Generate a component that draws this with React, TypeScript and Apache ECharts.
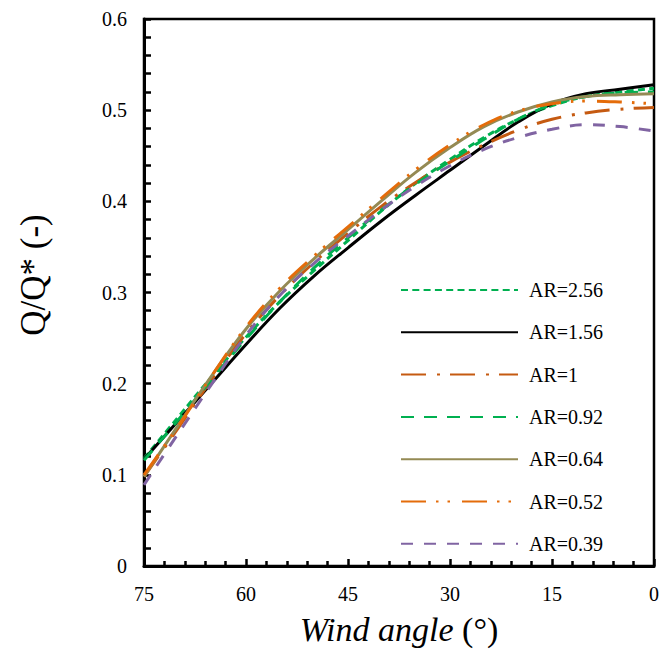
import React, { useEffect, useRef } from "react";
import * as echarts from "echarts";

const angles = [75, 70, 65, 60, 55, 50, 45, 40, 35, 30, 25, 20, 15, 10, 5, 0];
const xTicks = [75, 60, 45, 30, 15, 0];
const yTicks = [0, 0.1, 0.2, 0.3, 0.4, 0.5, 0.6];

const seriesNames = ["AR=2.56", "AR=1.56", "AR=1", "AR=0.92", "AR=0.64", "AR=0.52", "AR=0.39"];
const ar256 = [0.118, 0.163, 0.208, 0.251, 0.290, 0.324, 0.357, 0.390, 0.420, 0.446, 0.470, 0.490, 0.505, 0.515, 0.520, 0.524];
const ar156 = [0.117, 0.159, 0.201, 0.243, 0.283, 0.318, 0.349, 0.379, 0.407, 0.434, 0.461, 0.487, 0.507, 0.518, 0.523, 0.528];
const ar1 = [0.098, 0.151, 0.205, 0.255, 0.297, 0.333, 0.365, 0.395, 0.421, 0.443, 0.462, 0.478, 0.490, 0.497, 0.501, 0.503];
const ar092 = [0.116, 0.160, 0.205, 0.249, 0.290, 0.327, 0.360, 0.391, 0.419, 0.444, 0.468, 0.490, 0.506, 0.515, 0.519, 0.520];
const ar064 = [0.098, 0.154, 0.209, 0.260, 0.302, 0.337, 0.369, 0.401, 0.432, 0.459, 0.482, 0.498, 0.509, 0.515, 0.517, 0.518];
const ar052 = [0.100, 0.153, 0.209, 0.262, 0.305, 0.340, 0.372, 0.404, 0.435, 0.462, 0.484, 0.499, 0.507, 0.510, 0.509, 0.507];
const ar039 = [0.089, 0.145, 0.200, 0.253, 0.297, 0.332, 0.362, 0.391, 0.417, 0.439, 0.457, 0.470, 0.479, 0.484, 0.482, 0.477];

const seriesValues = [ar256, ar156, ar1, ar092, ar064, ar052, ar039];
const seriesColors = ["#00B050", "#000000", "#C55A11", "#00B050", "#948A54", "#E46C0A", "#8064A2"];
const seriesDash: any[] = [
  [7, 4.3],
  "solid",
  [25, 11, 3, 10],
  [13, 10],
  "solid",
  [25, 10, 2.5, 9, 2.5, 12],
  [12, 11],
];

const LIB = "Liberation Serif";

export default function App() {
  const ref = useRef<HTMLDivElement>(null);
  useEffect(() => {
    if (!ref.current) return;
    const chart = echarts.init(ref.current, undefined, { renderer: "svg" });
    const series = seriesNames.map((name, i) => ({
      name,
      type: "line",
      data: angles.map((a, j) => [a, seriesValues[i][j]]),
      smooth: 0.4,
      showSymbol: false,
      symbol: "none",
      lineStyle: { color: seriesColors[i], width: 3, type: seriesDash[i] },
      itemStyle: { color: seriesColors[i] },
      z: 2,
    }));
    chart.setOption({
      animation: false,
      backgroundColor: "#ffffff",
      grid: {
        left: 144,
        right: 5,
        top: 19,
        bottom: 93,
        show: true,
        borderColor: "#000",
        borderWidth: 2.5,
      },
      legend: {
        show: true,
        orient: "vertical",
        left: 400,
        top: 280,
        padding: 0,
        itemWidth: 117,
        itemHeight: 20,
        itemGap: 22.3,
        data: seriesNames,
        itemStyle: { opacity: 0 },
        textStyle: { fontFamily: LIB, fontSize: 20, color: "#000", padding: [0, 0, 0, 6] },
      },
      xAxis: {
        type: "value",
        min: 0,
        max: 75,
        interval: 15,
        inverse: true,
        axisLine: { show: true, onZero: false, lineStyle: { color: "#000", width: 3 } },
        axisTick: { show: true, inside: true, length: 7, lineStyle: { color: "#000", width: 2.5 } },
        minorTick: { show: true, splitNumber: 5, length: 5, lineStyle: { color: "#000", width: 2.5 } },
        splitLine: { show: false },
        axisLabel: {
          margin: 18,
          fontFamily: LIB,
          fontSize: 20,
          color: "#000",
          formatter: (v: number) => (xTicks.includes(v) ? String(v) : ""),
        },
        name: "{i|Wind angle} {n|(°)}",
        nameLocation: "middle",
        nameGap: 46,
        nameTextStyle: {
          fontFamily: LIB,
          fontSize: 34,
          color: "#000",
          rich: {
            i: { fontFamily: LIB, fontSize: 34, fontStyle: "italic", color: "#000" },
            n: { fontFamily: LIB, fontSize: 34, color: "#000" },
          },
        },
      },
      yAxis: {
        type: "value",
        min: 0,
        max: 0.6,
        interval: 0.1,
        axisLine: { show: true, onZero: false, lineStyle: { color: "#000", width: 3 } },
        axisTick: { show: true, inside: true, length: 7, lineStyle: { color: "#000", width: 2.5 } },
        minorTick: { show: true, splitNumber: 5, length: 7, lineStyle: { color: "#000", width: 2.5 } },
        splitLine: { show: false },
        axisLabel: {
          margin: 17,
          fontFamily: LIB,
          fontSize: 20,
          color: "#000",
          formatter: (v: number) => {
            const r = Math.round(v * 10) / 10;
            return yTicks.includes(r) ? String(r) : "";
          },
        },
      },
      graphic: [
        {
          type: "text",
          x: 33,
          y: 275,
          rotation: Math.PI / 2,
          style: {
            text: "Q/Q* (-)",
            fontFamily: LIB,
            fontSize: 35,
            fill: "#000",
            align: "center",
            verticalAlign: "middle",
          },
        },
      ],
      series,
    });
    return () => chart.dispose();
  }, []);
  return (
    <div
      ref={ref}
      style={{ position: "absolute", left: 0, top: 0, width: 662, height: 659 }}
    />
  );
}
